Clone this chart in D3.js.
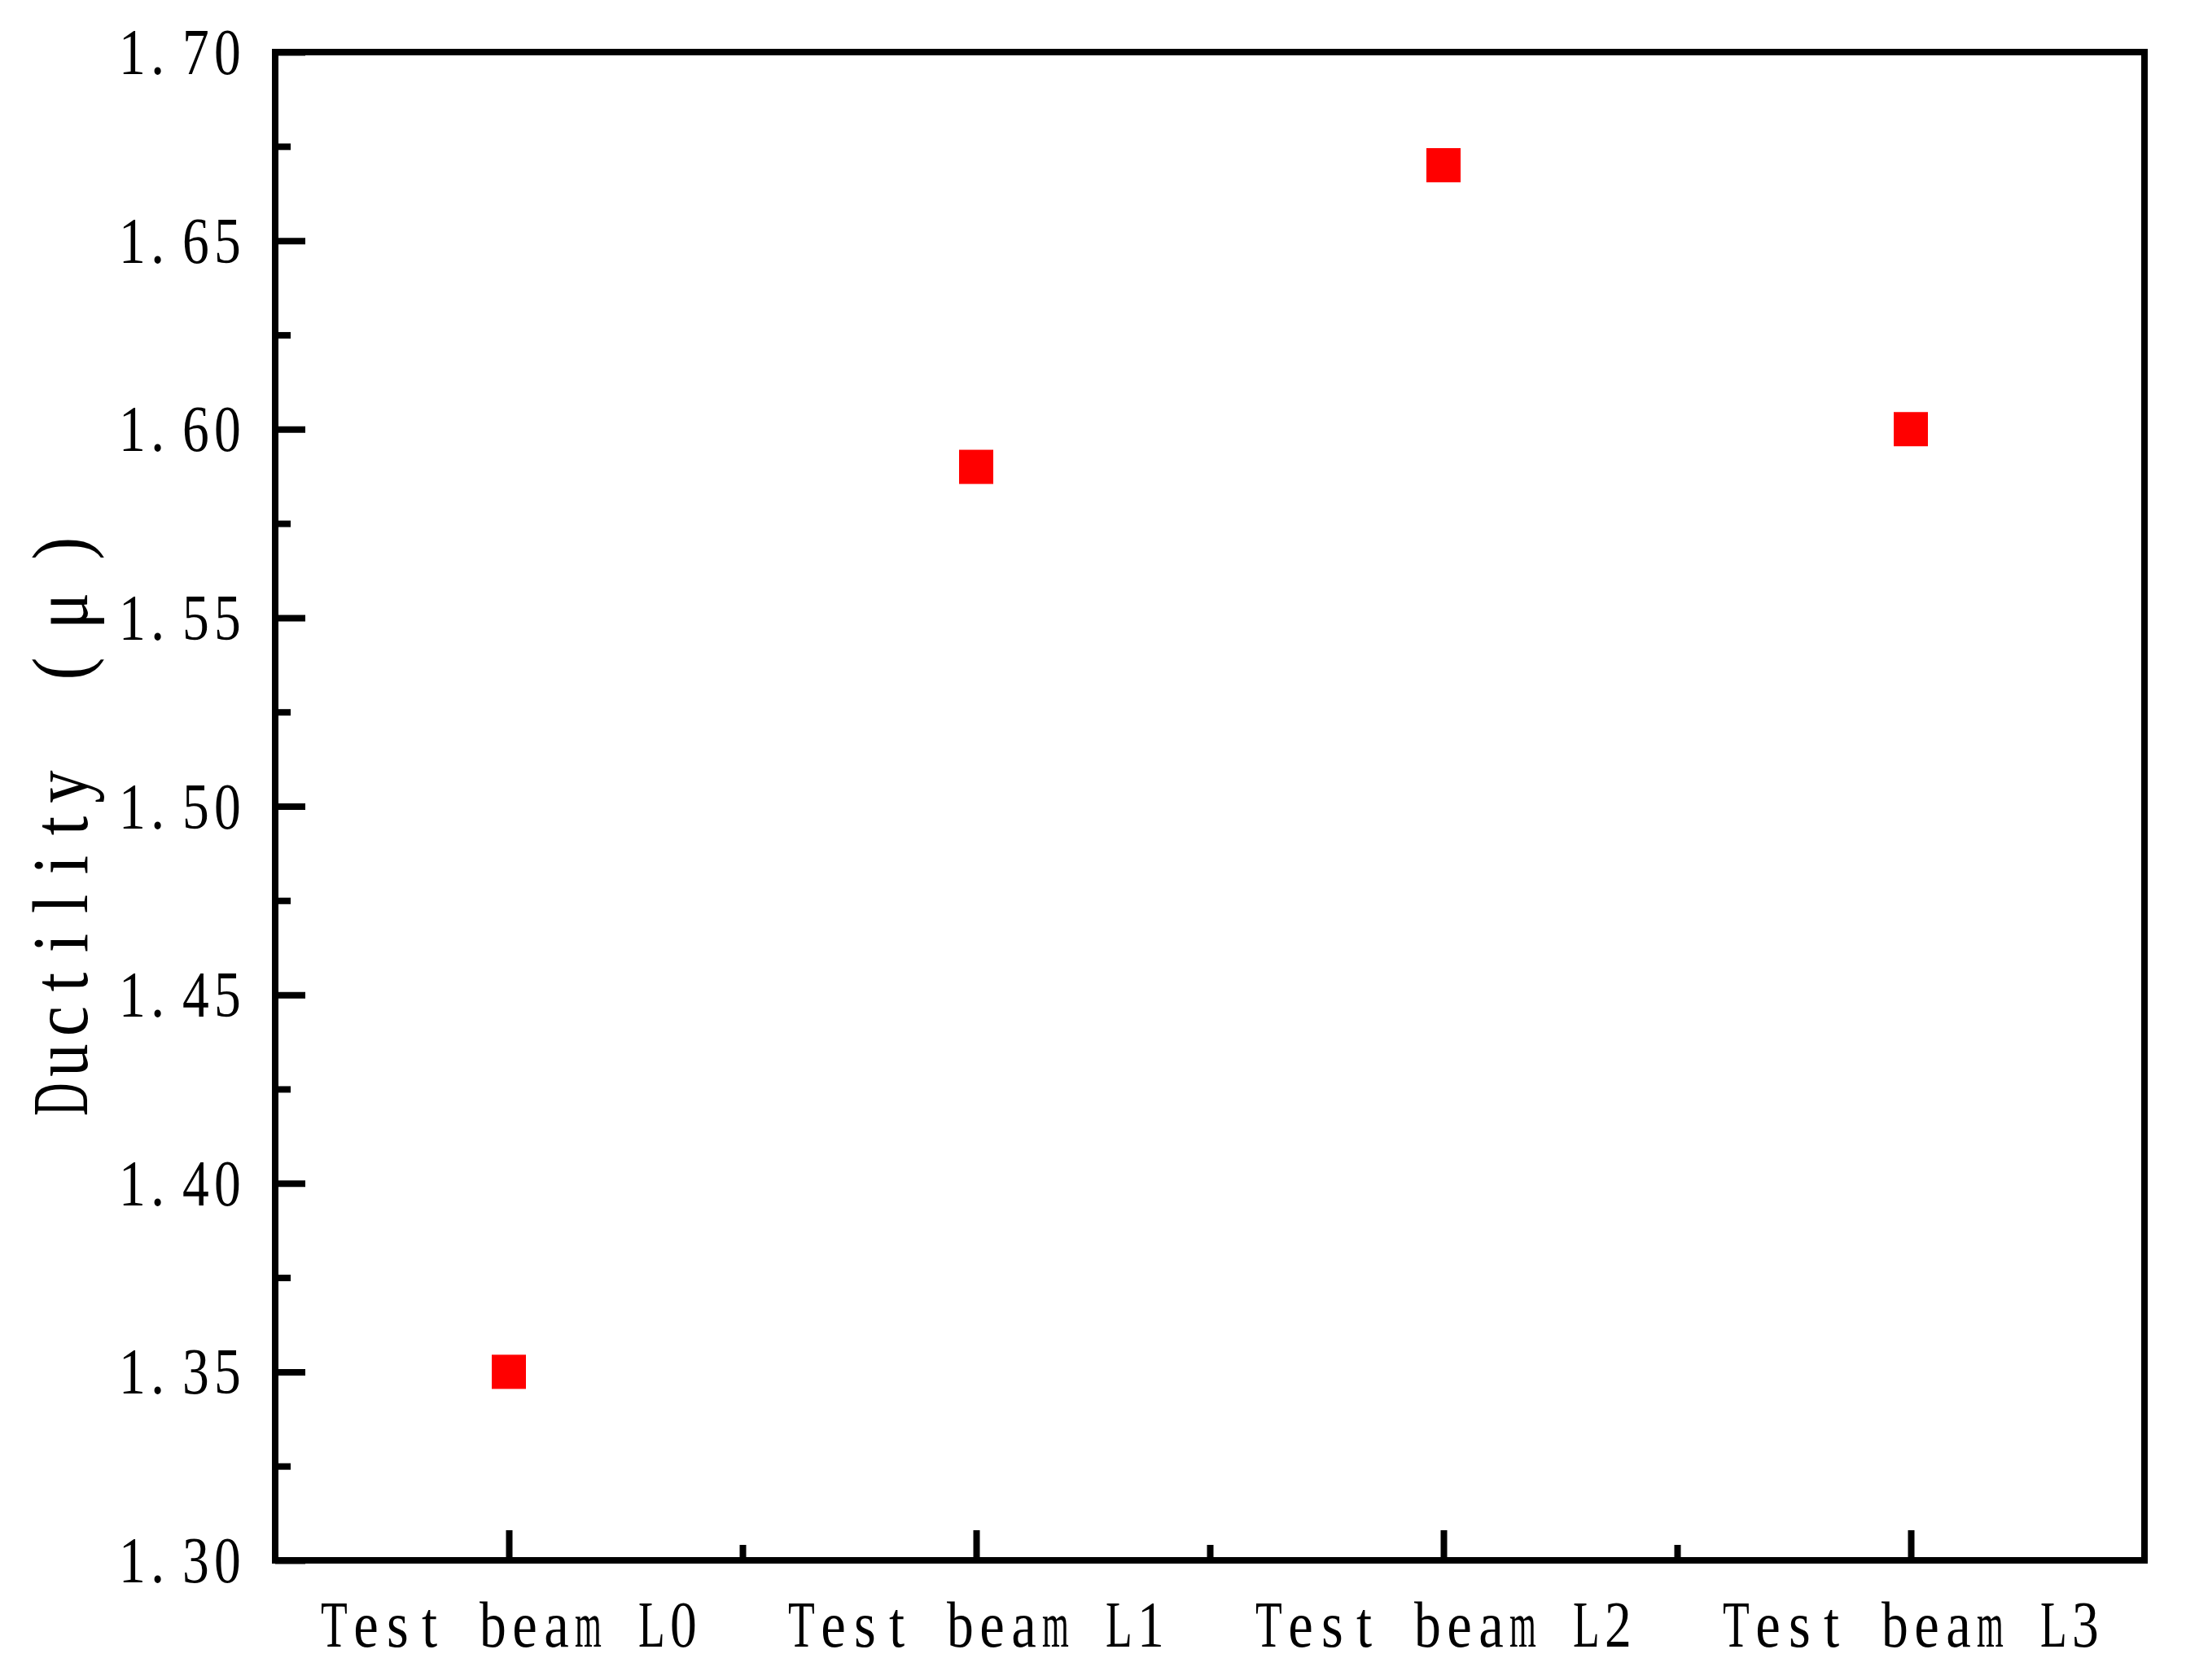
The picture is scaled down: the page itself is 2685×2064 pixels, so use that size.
<!DOCTYPE html>
<html>
<head>
<meta charset="utf-8">
<script src="https://cdn.jsdelivr.net/npm/d3@7/dist/d3.min.js"></script>
<style>
  html, body { margin: 0; padding: 0; background: #ffffff; }
  svg { display: block; }
</style>
</head>
<body>
<script>
// ---- data ----
const categories = ["Test beam L0", "Test beam L1", "Test beam L2", "Test beam L3"];
const ductility = [1.35, 1.59, 1.67, 1.60];
const yTickValues = [1.30, 1.35, 1.40, 1.45, 1.50, 1.55, 1.60, 1.65, 1.70];
const yTickLabels = ["1.30", "1.35", "1.40", "1.45", "1.50", "1.55", "1.60", "1.65", "1.70"];
const yMinorValues = [1.325, 1.375, 1.425, 1.475, 1.525, 1.575, 1.625, 1.675];
const yTitle = "Ductility （μ）";

(function () {
// ---- layout ----
const W = 2685, H = 2064;
const pL = 338, pR = 2634, pT = 64, pB = 1917;
const FONT = "'Liberation Serif', 'DejaVu Serif', serif";

const svg = d3.select("body").append("svg")
  .attr("width", W).attr("height", H)
  .attr("viewBox", `0 0 ${W} ${H}`);
svg.append("rect").attr("width", W).attr("height", H).attr("fill", "#fff");

const x = d3.scaleBand().domain(categories).range([pL, pR]).padding(0);
const y = d3.scaleLinear().domain([1.30, 1.70]).range([pB, pT]);

// monospaced text helper (half-width cells for ASCII, full-width for CJK punctuation / Greek)
function isFull(ch) { return /[（）μ]/.test(ch); }
const glyphMap = { "（": "(", "）": ")" };
const glyphPos = { "（": 0.76, "）": 0.30, ".": 0.30 };
function monoText(parent, str, startX, baseY, size, cell) {
  const g = parent.append("g");
  let cx = startX;
  for (const ch of str) {
    const cw = isFull(ch) ? cell * 2 : cell;
    if (ch !== " ") {
      const pos = glyphPos[ch] !== undefined ? glyphPos[ch] : 0.5;
      const t = g.append("text")
        .attr("x", 0).attr("y", 0)
        .attr("text-anchor", "middle")
        .attr("font-family", FONT)
        .attr("font-size", size)
        .attr("fill", "#000")
        .text(glyphMap[ch] || ch);
      const w = t.node().getComputedTextLength() * 0.86;
      const maxW = cw * 0.84;
      const sx = 0.86 * (w > maxW ? maxW / w : 1);
      t.attr("transform", `translate(${cx + cw * pos},${baseY}) scale(${sx},1)`);
    }
    cx += cw;
  }
  return g;
}
function monoWidth(str, cell) {
  let w = 0;
  for (const ch of str) w += isFull(ch) ? cell * 2 : cell;
  return w;
}

// ---- ticks (inward) ----
const tickStyle = sel => {
  sel.select(".domain").remove();
  sel.selectAll(".tick line").attr("stroke", "#000").attr("stroke-width", 8).attr("stroke-linecap", "butt");
  sel.selectAll(".tick text").remove();
};
svg.append("g").attr("transform", `translate(${pL},0)`)
  .call(d3.axisLeft(y).tickValues(yTickValues).tickSize(-37).tickFormat(""))
  .call(tickStyle);
svg.append("g").attr("transform", `translate(${pL},0)`)
  .call(d3.axisLeft(y).tickValues(yMinorValues).tickSize(-19).tickFormat(""))
  .call(tickStyle);

const xMajorScale = d3.scalePoint().domain(categories).range([pL + x.bandwidth() / 2, pR - x.bandwidth() / 2]);
svg.append("g").attr("transform", `translate(0,${pB})`)
  .call(d3.axisBottom(xMajorScale).tickSize(-37).tickFormat(""))
  .call(tickStyle);
const xMinor = categories.slice(1).map(c => x(c));
const xLin = d3.scaleLinear().domain([pL, pR]).range([pL, pR]);
svg.append("g").attr("transform", `translate(0,${pB})`)
  .call(d3.axisBottom(xLin).tickValues(xMinor).tickSize(-19).tickFormat(""))
  .call(tickStyle);

// ---- frame ----
svg.append("rect")
  .attr("x", pL).attr("y", pT)
  .attr("width", pR - pL).attr("height", pB - pT)
  .attr("fill", "none").attr("stroke", "#000").attr("stroke-width", 8)
  .attr("stroke-linejoin", "miter");

// ---- tick labels ----
const tickFont = 80, tickCell = 39;
yTickValues.forEach((v, i) => {
  const lbl = yTickLabels[i];
  const w = monoWidth(lbl, tickCell);
  monoText(svg, lbl, 299 - w, y(v) + 27, tickFont, tickCell);
});
categories.forEach(c => {
  const w = monoWidth(c, tickCell);
  monoText(svg, c, xMajorScale(c) - w / 2, 2023, tickFont, tickCell);
});

// ---- y title ----
const titleFont = 98, titleCell = 48;
const tg = svg.append("g").attr("transform", `translate(107,0) rotate(-90)`);
const tw = monoWidth(yTitle, titleCell);
const tCenter = (pT + pB) / 2;
monoText(tg, yTitle, -tCenter - tw / 2, 0, titleFont, titleCell);

// ---- markers ----
const ms = 42;
svg.append("g").selectAll("rect")
  .data(categories.map((c, i) => ({ c, v: ductility[i] })))
  .join("rect")
  .attr("x", d => xMajorScale(d.c) - ms / 2)
  .attr("y", d => y(d.v) - ms / 2)
  .attr("width", ms).attr("height", ms)
  .attr("fill", "#ff0000");
})();
</script>
</body>
</html>
